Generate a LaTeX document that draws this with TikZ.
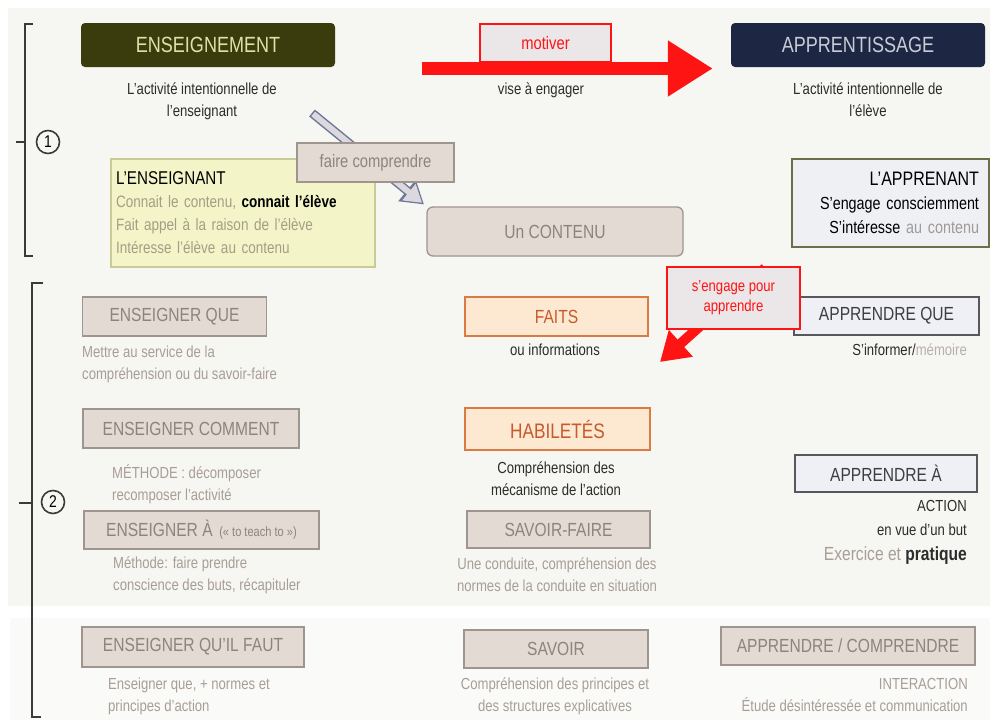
\documentclass[tikz,border=0pt]{standalone}
\usepackage{fontspec}
\setmainfont{Liberation Sans}[FakeStretch=0.82]
\usetikzlibrary{arrows.meta}
\definecolor{bgpanel}{HTML}{F6F6F3}
\definecolor{bglow}{HTML}{FAFAF8}
\definecolor{olivebg}{HTML}{3A3C0E}
\definecolor{olivetx}{HTML}{DCE3A6}
\definecolor{navybg}{HTML}{1D2743}
\definecolor{navytx}{HTML}{C8CCD6}
\definecolor{greyfill}{HTML}{E3DAD4}
\definecolor{greyline}{HTML}{A0958E}
\definecolor{greytx}{HTML}{8E847E}
\definecolor{orfill}{HTML}{FDE9D2}
\definecolor{orline}{HTML}{DC7A44}
\definecolor{ortx}{HTML}{C65A2C}
\definecolor{blfill}{HTML}{EEF0F6}
\definecolor{blline}{HTML}{58585C}
\definecolor{bltx}{HTML}{3E3E40}
\definecolor{redarr}{HTML}{FF1414}
\definecolor{redfill}{HTML}{EBE6E8}
\definecolor{ensfill}{HTML}{F3F5C9}
\definecolor{ensline}{HTML}{C9CA94}
\definecolor{enstx}{HTML}{A39E84}
\definecolor{appfill}{HTML}{EEF0F4}
\definecolor{appline}{HTML}{6E6E48}
\definecolor{appgrey}{HTML}{A09A98}
\definecolor{fcline}{HTML}{6C7898}
\definecolor{fcfill}{HTML}{DCD8DE}
\definecolor{darktx}{HTML}{2C2C2C}
\definecolor{softtx}{HTML}{A89E96}
\definecolor{lighttx}{HTML}{B8B0AE}
\definecolor{brackcol}{HTML}{3A3A3A}
\tikzset{
  headbox/.style={rounded corners=4pt, inner sep=0pt, minimum height=44pt,
    font=\fontsize{22}{24}\selectfont},
  greybox/.style={draw=greyline, fill=greyfill, text=greytx, line width=1.3pt,
    inner sep=0pt, minimum height=39pt, font=\fontsize{19}{21}\selectfont},
  orangebox/.style={greybox, draw=orline, fill=orfill, text=ortx},
  bluebox/.style={greybox, draw=blline, fill=blfill, text=bltx},
  redbox/.style={draw=redarr, fill=redfill, text=redarr, line width=1.3pt, inner sep=0pt},
  note/.style={inner sep=0pt, font=\fontsize{16}{22}\selectfont, text=darktx},
  softnote/.style={note, text=softtx},
  numcircle/.style={circle, draw=brackcol, line width=1.6pt, minimum size=23pt,
    inner sep=0pt, font=\fontsize{17}{17}\selectfont},
  bracket/.style={draw=brackcol, line width=1.5pt},
}
\begin{document}
\begin{tikzpicture}[x=1pt,y=-1pt]
  \useasboundingbox (0,0) rectangle (990,720);
  \fill[bgpanel] (8,8) rectangle (990,606);
  \fill[bglow] (10,618) rectangle (990,720);

  \draw[bracket] (33,24) -- (25,24) -- (25,256) -- (33,256) (25,142) -- (16,142);
  \node[numcircle] (one) at (48,142) {1};
  \draw[bracket] (43,283) -- (32,283) -- (32,717) -- (41,717) (32,503) -- (19,503);
  \node[numcircle] (two) at (53,502) {2};

  \node[headbox, fill=olivebg, text=olivetx, minimum width=254pt] (enseignement) at (208,45) {ENSEIGNEMENT};
  \node[headbox, fill=navybg, text=navytx, minimum width=254pt] (apprentissage) at (858,45) {APPRENTISSAGE};
  \node[note, anchor=north, align=center] (ensdesc) at (202,83) {L'activité intentionnelle de\\l'enseignant};
  \node[note, anchor=north, align=center] (appdesc) at (868,83) {L'activité intentionnelle de\\l'élève};
  \node[redbox, minimum width=131pt, minimum height=38pt, font=\fontsize{18}{20}\selectfont] (motiver) at (545.5,43) {motiver};
  \node[note, anchor=north] (vise) at (541,83) {vise à engager};

  \node[draw=ensline, fill=ensfill, line width=1.2pt, minimum width=264pt, minimum height=108pt,
    text width=254pt, inner xsep=5pt, inner ysep=0pt, align=left,
    font=\fontsize{16.5}{23}\selectfont, text=enstx] (enseignant) at (243,213)
    {{\fontsize{18.5}{20}\selectfont\color{black}L'ENSEIGNANT}\\
     Connait le contenu, {\bfseries\color{black}connait l'élève}\\
     Fait appel à la raison de l'élève\\
     Intéresse l'élève au contenu};
  \node[greybox, rounded corners=6pt, minimum width=256pt, minimum height=49pt] (contenu) at (555,231.5) {Un CONTENU};
  \node[draw=appline, fill=appfill, line width=1.5pt, minimum width=197pt, minimum height=88pt,
    text width=177pt, inner xsep=10pt, inner ysep=0pt, align=right,
    font=\fontsize{17.5}{24}\selectfont, text=black] (apprenant) at (890.5,203)
    {{\fontsize{19.5}{21}\selectfont L'APPRENANT}\\
     S'engage consciemment\\
     S'intéresse {\color{appgrey}au contenu}};

  \coordinate (fcstart) at (312,113);
  \draw[line width=9pt, fcline, -{Triangle[length=22pt,width=26pt]}, shorten >=3pt] (fcstart) -- (contenu.north west);
  \draw[line width=6pt, fcfill, -{Triangle[length=17pt,width=20pt]}, shorten >=5.5pt, shorten <=1.5pt] (fcstart) -- (contenu.north west);
  \node[greybox, minimum width=157pt, font=\fontsize{18}{20}\selectfont] (faire) at (375.5,162.5) {faire comprendre};

  \coordinate (motstart) at (422,68.5);
  \draw[draw=redarr, line width=13pt, -{Triangle[length=45pt,width=53pt]}, shorten >=18pt] (motstart) -- (motstart -| apprentissage.west);

  \node[greybox, minimum width=184pt] (ensque) at (174.5,316.5) {ENSEIGNER QUE};
  \node[greybox, minimum width=216pt] (enscomment) at (191,428.5) {ENSEIGNER COMMENT};
  \node[greybox, minimum width=235pt, minimum height=38pt] (ensa) at (201.5,530) {ENSEIGNER À {\fontsize{13.5}{15}\selectfont\,(« to teach to »)}};
  \node[greybox, minimum width=222pt, minimum height=40pt] (ensfaut) at (193,647) {ENSEIGNER QU'IL FAUT};
  \node[softnote, anchor=north west, align=left] (quedesc) at (82,346) {Mettre au service de la\\compréhension ou du savoir-faire};
  \node[softnote, anchor=north west, align=left] (commentdesc) at (112,464) {MÉTHODE : décomposer\\recomposer l'activité};
  \node[softnote, anchor=north west, align=left] (adesc) at (113,557) {Méthode: faire prendre\\conscience des buts, récapituler};
  \node[softnote, anchor=north west, align=left] (fautdesc) at (108,678) {Enseigner que, + normes et\\principes d'action};

  \node[orangebox, minimum width=183pt] (faits) at (556.5,316.5) {FAITS};
  \node[orangebox, minimum width=185pt, minimum height=42pt, font=\fontsize{21}{23}\selectfont] (habiletes) at (557.5,429) {HABILETÉS};
  \node[greybox, minimum width=183pt, minimum height=37pt] (savoirfaire) at (558.5,529.5) {SAVOIR-FAIRE};
  \node[greybox, minimum width=184pt, minimum height=38pt] (savoir) at (556,649) {SAVOIR};
  \node[note, anchor=north] (faitsdesc) at (555,344) {ou informations};
  \node[note, anchor=north, align=center] (habdesc) at (556,462) {Compréhension des\\mécanisme de l'action};
  \node[softnote, anchor=north, align=center] (sfdesc) at (557,558) {Une conduite, compréhension des\\normes de la conduite en situation};
  \node[softnote, anchor=north, align=center] (savdesc) at (555,678) {Compréhension des principes et\\des structures explicatives};

  \node[bluebox, minimum width=185pt, minimum height=38pt] (appque) at (886.5,316) {APPRENDRE QUE};
  \node[bluebox, minimum width=182pt, minimum height=37pt] (appa) at (886,473.5) {APPRENDRE À};
  \node[greybox, minimum width=254pt, minimum height=38pt] (appcomp) at (848,646) {APPRENDRE / COMPRENDRE};
  \node[note, anchor=north east] (infdesc) at (967,344) {S'informer/{\color{lighttx}mémoire}};
  \node[note, anchor=north east, align=right, font=\fontsize{16}{24.5}\selectfont] (actdesc) at (967,500)
    {ACTION\\en vue d'un but\\{\fontsize{19}{21}\selectfont{\color{softtx}Exercice et} {\bfseries pratique}}};
  \node[softnote, anchor=north east, align=right] (interdesc) at (968,678) {INTERACTION\\Étude désintéressée et communication};

  \coordinate (engstart) at (765,268);
  \coordinate (engend) at (660,362);
  \draw[draw=redarr, line width=10pt, -{Triangle[length=28pt,width=34pt]}] (engstart) -- (engend);
  \node[redbox, minimum width=133pt, minimum height=62pt, align=center, font=\fontsize{16}{20}\selectfont] (engage) at (733.5,298) {s'engage pour\\apprendre};
\end{tikzpicture}
\end{document}
